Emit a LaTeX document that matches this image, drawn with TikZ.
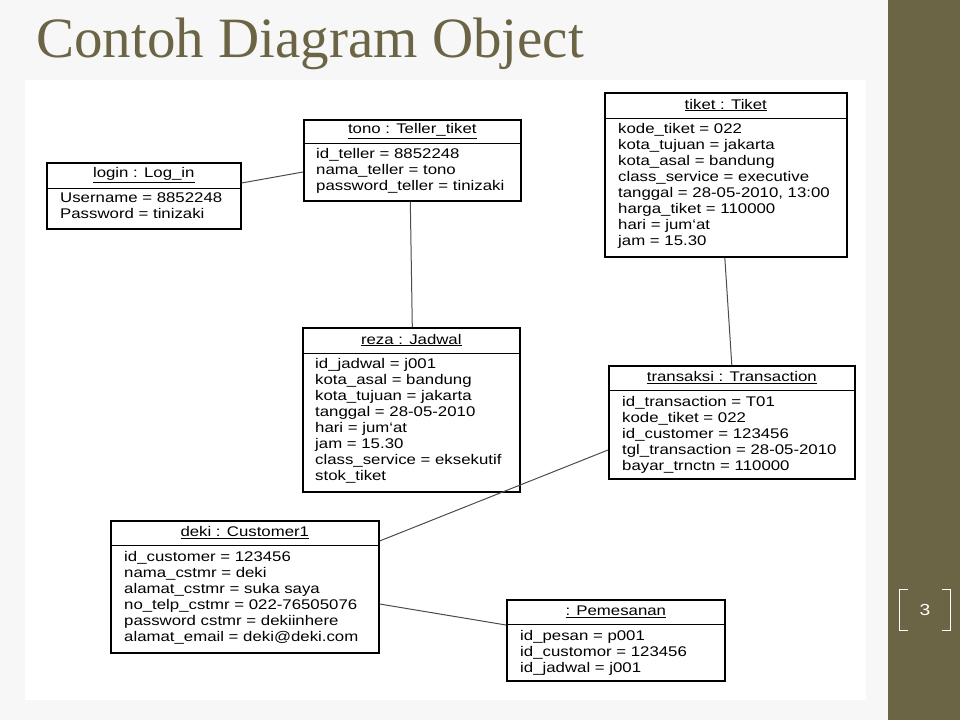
\documentclass[tikz,border=0pt]{standalone}
\usepackage{fontspec}
\setmainfont{Liberation Sans}[FakeStretch=1.2]
\newfontfamily\titlefont{Liberation Serif}
\definecolor{olive}{HTML}{6B6546}
\begin{document}
\begin{tikzpicture}[x=1pt,y=-1pt,
  obox/.style={draw,line width=1.6pt,anchor=north west,inner sep=0pt},
  hdr/.style={font=\fontsize{14}{16}\selectfont,inner sep=0pt},
  body/.style={font=\fontsize{14}{16}\selectfont,align=left,anchor=north west,inner sep=0pt},
  conn/.style={line width=1pt,draw=black!70}]
\fill[gray!6] (0,0) rectangle (960,720);
\fill[olive] (888,0) rectangle (960,720);
\useasboundingbox (0,0) rectangle (960,720);
\node[text=olive,font=\titlefont\fontsize{57}{60}\selectfont,anchor=west,inner sep=0pt] (title) at (36,44) {Contoh Diagram Object};
\fill[white] (25,80) rectangle (866,700);
\node[minimum width=50,minimum height=40] (pg) at (925,610) {};
\draw[white,line width=1pt] ([xshift=8]pg.north west) -- (pg.north west) -- (pg.south west) -- ([xshift=8]pg.south west);
\draw[white,line width=1pt] ([xshift=-8]pg.north east) -- (pg.north east) -- (pg.south east) -- ([xshift=-8]pg.south east);
\node[text=white,font=\fontsize{16}{18}\selectfont] (pgn) at (925,610) {3};
\newcommand{\obj}[7]{% name x y w h headerh title
  \node[obox,minimum width=#4,minimum height=#5] (#1) at (#2,#3) {};
  \draw[line width=1pt] ([yshift=-#6]#1.north west) -- ([yshift=-#6]#1.north east);
  \node[hdr] (#1h) at ([yshift=-#6/2]#1.north) {\underline{#7}};
}
\obj{login}{46}{162}{194}{66}{26}{login : Log\_in}
\node[body] (loginb) at ([xshift=14,yshift=-31]login.north west) {Username = 8852248\\Password = tinizaki};
\obj{tono}{303}{119}{217}{81}{24}{tono : Teller\_tiket}
\node[body] (tonob) at ([xshift=13,yshift=-29]tono.north west) {id\_teller = 8852248\\nama\_teller = tono\\password\_teller = tinizaki};
\obj{tiket}{604}{92}{242}{164}{26}{tiket : Tiket}
\node[body] (tiketb) at ([xshift=14,yshift=-31]tiket.north west) {kode\_tiket = 022\\kota\_tujuan = jakarta\\kota\_asal = bandung\\class\_service = executive\\tanggal = 28-05-2010, 13:00\\harga\_tiket = 110000\\hari = jum`at\\jam = 15.30};
\obj{reza}{302}{327}{217}{164}{26}{reza : Jadwal}
\node[body] (rezab) at ([xshift=13,yshift=-31]reza.north west) {id\_jadwal = j001\\kota\_asal = bandung\\kota\_tujuan = jakarta\\tanggal = 28-05-2010\\hari = jum`at\\jam = 15.30\\class\_service = eksekutif\\stok\_tiket};
\obj{trans}{608}{365}{246}{113}{25}{transaksi : Transaction}
\node[body] (transb) at ([xshift=14,yshift=-31]trans.north west) {id\_transaction = T01\\kode\_tiket = 022\\id\_customer = 123456\\tgl\_transaction = 28-05-2010\\bayar\_trnctn = 110000};
\obj{deki}{110}{520}{268}{132}{25}{deki : Customer1}
\node[body] (dekib) at ([xshift=14,yshift=-31]deki.north west) {id\_customer = 123456\\nama\_cstmr = deki\\alamat\_cstmr = suka saya\\no\_telp\_cstmr = 022-76505076\\password cstmr = dekiinhere\\alamat\_email = deki@deki.com};
\obj{pem}{506}{599}{218}{81}{25}{: Pemesanan}
\node[body] (pemb) at ([xshift=14,yshift=-31]pem.north west) {id\_pesan = p001\\id\_customor = 123456\\id\_jadwal = j001};
\draw[conn] ([yshift=-21]login.north east) -- ([yshift=-53]tono.north west);
\draw[conn] ([xshift=-2]tono.south) -- ([xshift=1]reza.north);
\draw[conn] ([xshift=-1]tiket.south) -- (trans.north);
\draw[conn] ([yshift=-85]trans.north west) -- ([yshift=-21]deki.north east);
\draw[conn] ([yshift=-84]deki.north east) -- ([yshift=-26]pem.north west);
\end{tikzpicture}
\end{document}
